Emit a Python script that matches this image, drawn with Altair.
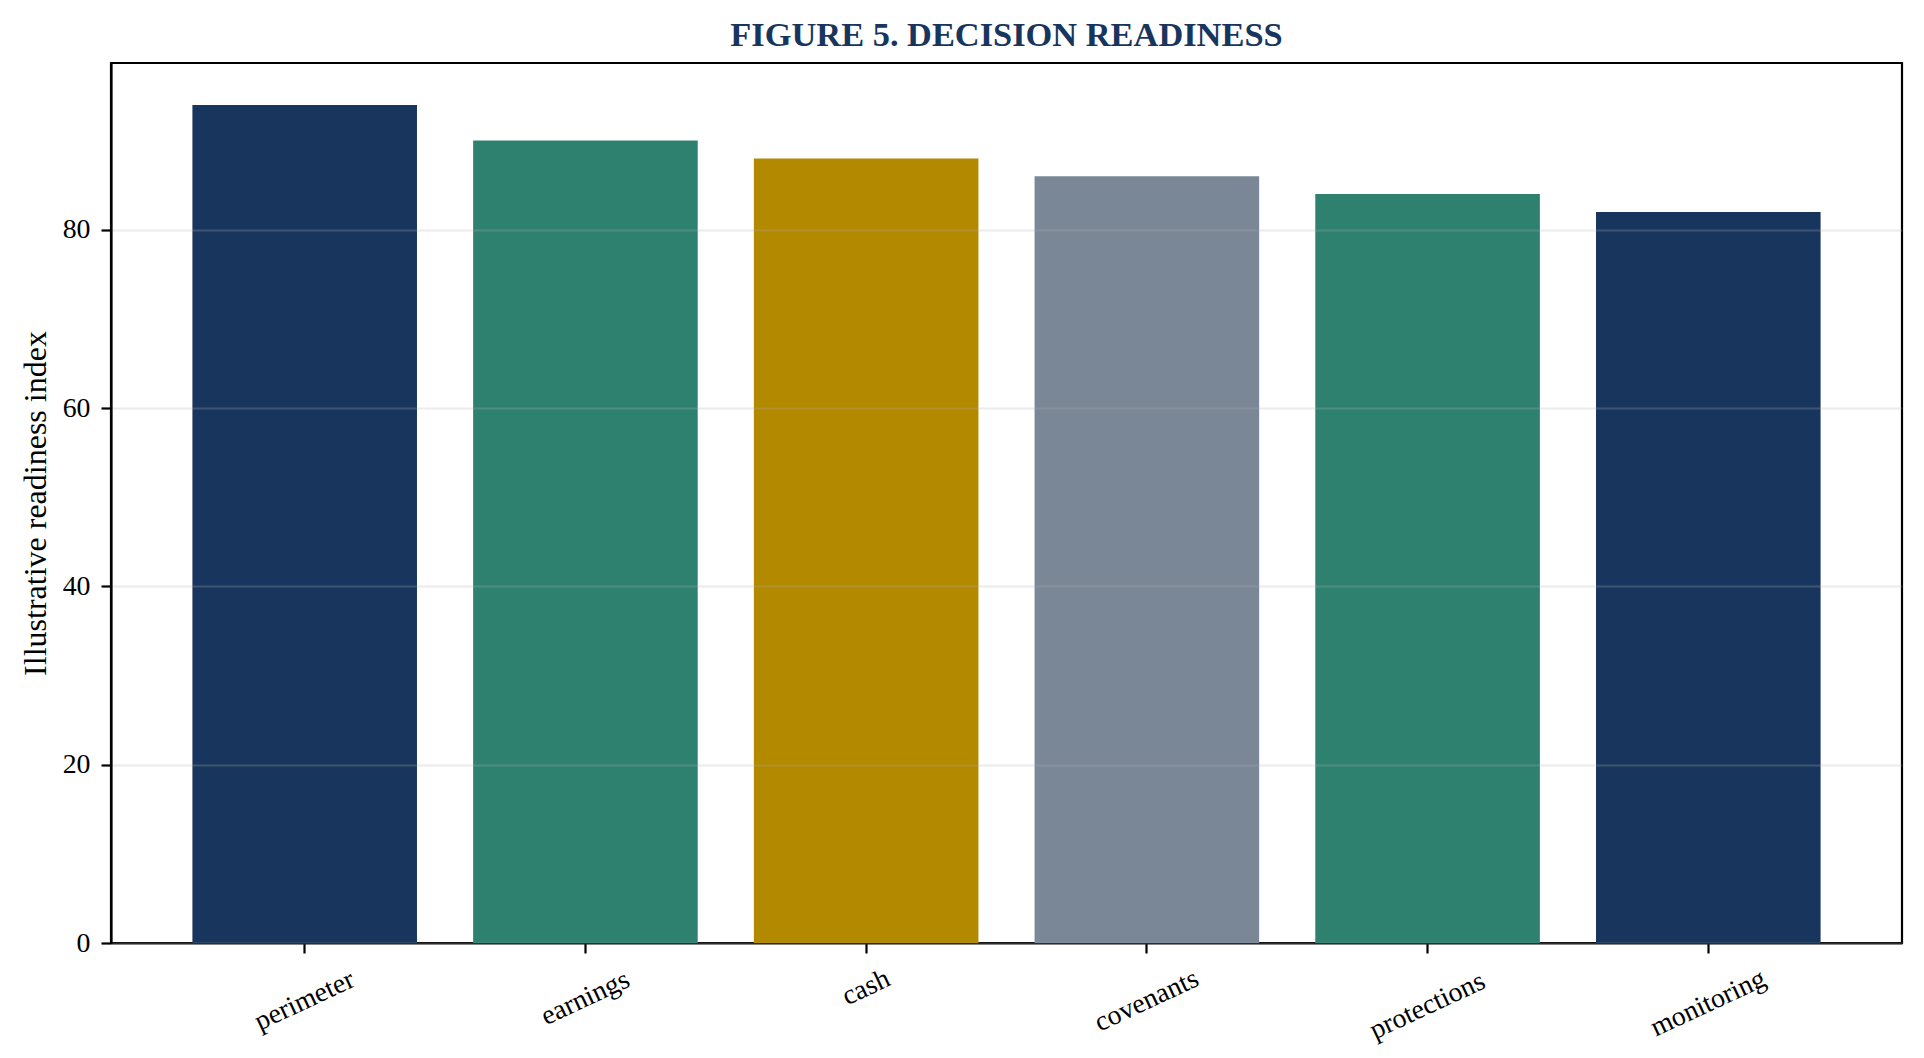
import altair as alt
import pandas as pd

# ---- data ----
categories = ["perimeter", "earnings", "cash", "covenants", "protections", "monitoring"]
values = [94, 90, 88, 86, 84, 82]
bar_colors = ["#18365D", "#2E806F", "#B38900", "#7A8796", "#2E806F", "#18365D"]
y_ticks = [0, 20, 40, 60, 80]
y_max = 98.7

title_text = "FIGURE 5. DECISION READINESS"
y_title = "Illustrative readiness index"

df = pd.DataFrame({"category": categories, "value": values})

NAVY = "#18365D"
FONT = "Liberation Serif"
W, H = 1791, 880

bars = alt.Chart(df).mark_bar().encode(
    x=alt.X(
        "category:N",
        sort=categories,
        scale=alt.Scale(paddingInner=0.2, paddingOuter=0.29),
        axis=alt.Axis(
            title=None,
            labelAngle=335,
            labelAlign="center",
            labelBaseline="middle",
            labelPadding=alt.ExprRef("24 + 2.6*length(datum.label)"),
            grid=False,
        ),
    ),
    y=alt.Y(
        "value:Q",
        scale=alt.Scale(domain=[0, y_max], nice=False, zero=True),
        axis=alt.Axis(
            values=y_ticks,
            title=y_title,
            grid=True,
            gridColor="#b0b0b0",
            gridOpacity=0.25,
            gridWidth=2,
            labelPadding=11,
            zindex=1,
            titleX=-66,
            titleY=H / 2,
            titleAngle=270,
            titleAlign="center",
            titleBaseline="alphabetic",
        ),
    ),
    color=alt.Color(
        "category:N",
        scale=alt.Scale(domain=categories, range=bar_colors),
        legend=None,
    ),
)

chart = (
    bars.properties(
        width=W,
        height=H,
        autosize=alt.AutoSizeParams(type="none"),
        padding={"left": 103, "top": 55, "right": 14, "bottom": 107},
        title=alt.Title(
            title_text,
            font=FONT,
            fontSize=34.4,
            fontWeight="bold",
            color=NAVY,
            anchor="middle",
            offset=17,
            baseline="alphabetic",
            dy=34,
        ),
    )
    .configure_view(stroke="black", strokeWidth=2.2)
    .configure_axis(
        domainColor="black",
        domainWidth=2.2,
        tickColor="black",
        tickWidth=2.2,
        tickSize=10,
        labelFont=FONT,
        labelFontSize=27.8,
        labelColor="black",
        titleFont=FONT,
        titleFontSize=32,
        titleFontWeight="normal",
        titleColor="black",
    )
)

chart.save("out.html", embed_options={"renderer": "svg", "actions": False})
